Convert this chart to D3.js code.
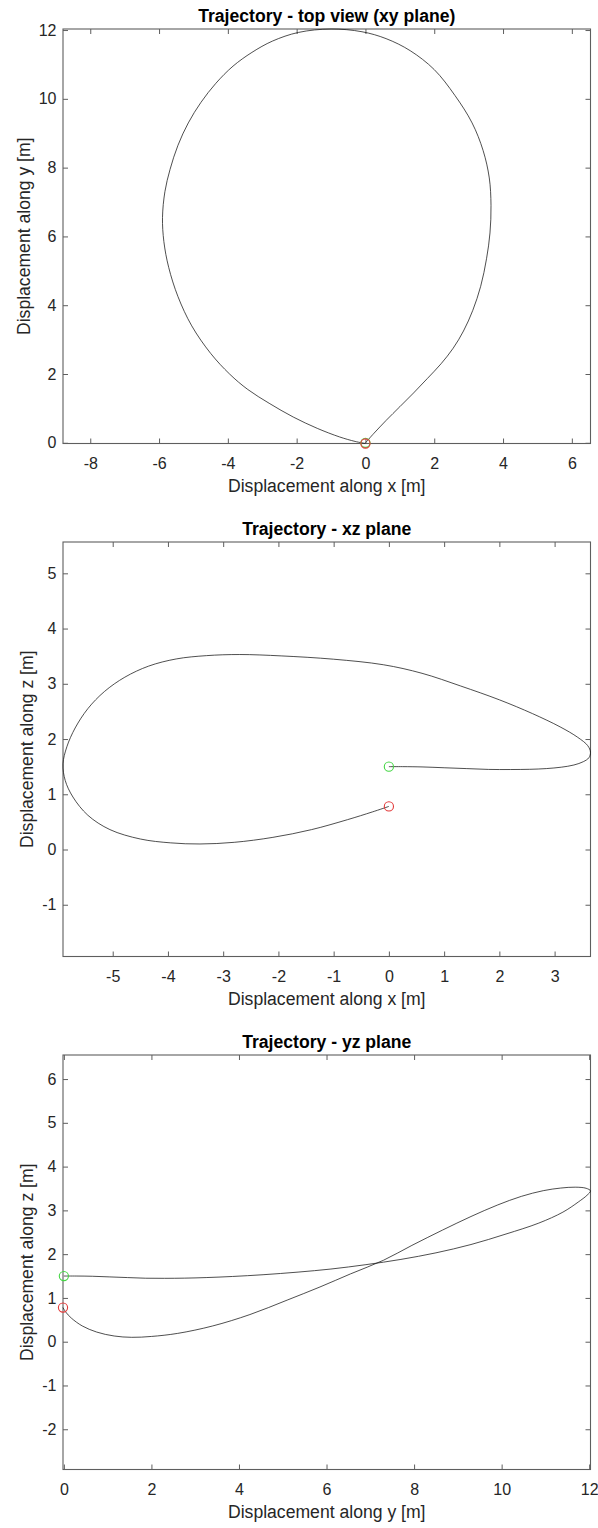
<!DOCTYPE html>
<html>
<head>
<meta charset="utf-8">
<script src="https://cdn.jsdelivr.net/npm/d3@7"></script>
<style>
  html, body { margin: 0; padding: 0; background: #ffffff; }
  svg { display: block; font-family: "Liberation Sans", Arial, Helvetica, sans-serif; }
</style>
</head>
<body>
<svg id="fig" width="598" height="1528"></svg>
<script>
// Trajectory samples, in metres (same parameter index for x, y and z)
const trajX = [0, 0.25, 0.6, 1.0, 1.4, 1.8, 2.2, 2.55, 2.85, 3.12, 3.35, 3.52, 3.62, 3.65,
               3.6, 3.42, 3.1, 2.6, 2.0, 1.3, 0.6, -0.1, -1.0,
               -1.95, -2.7, -3.3, -3.85, -4.35, -4.78, -5.15, -5.45, -5.68, -5.83, -5.9,
               -5.86, -5.72, -5.45, -5.05, -4.5, -3.95, -3.42, -2.8, -2.1, -1.4, -0.75, -0.3, 0];
const trajY = [0, 0.28, 0.65, 1.05, 1.45, 1.87, 2.3, 2.75, 3.25, 3.85, 4.55, 5.35, 6.1, 6.9,
               7.7, 8.5, 9.3, 10.1, 10.85, 11.4, 11.75, 11.95, 12.03,
               11.93, 11.68, 11.35, 10.95, 10.45, 9.9, 9.3, 8.65, 7.95, 7.3, 6.55,
               5.85, 5.1, 4.25, 3.4, 2.6, 2.0, 1.55, 1.15, 0.75, 0.42, 0.17, 0.04, -0.02];
const trajZ = [1.50, 1.50, 1.495, 1.48, 1.465, 1.45, 1.448, 1.452, 1.465, 1.49, 1.53, 1.59, 1.66, 1.76,
               1.88, 2.03, 2.22, 2.46, 2.71, 2.96, 3.19, 3.345, 3.445,
               3.505, 3.53, 3.51, 3.45, 3.32, 3.12, 2.86, 2.55, 2.2, 1.86, 1.55,
               1.25, 0.95, 0.62, 0.36, 0.19, 0.12, 0.10, 0.13, 0.22, 0.36, 0.54, 0.68, 0.78];

// Tick values for each view
const xyTicksX = [-8, -6, -4, -2, 0, 2, 4, 6];
const xyTicksY = [0, 2, 4, 6, 8, 10, 12];
const xzTicksX = [-5, -4, -3, -2, -1, 0, 1, 2, 3];
const xzTicksZ = [-1, 0, 1, 2, 3, 4, 5];
const yzTicksY = [0, 2, 4, 6, 8, 10, 12];
const yzTicksZ = [-2, -1, 0, 1, 2, 3, 4, 5, 6];

// Titles and axis labels
const viewTitles = ["Trajectory - top view (xy plane)", "Trajectory - xz plane", "Trajectory - yz plane"];
const hLabels = ["Displacement along x [m]", "Displacement along x [m]", "Displacement along y [m]"];
const vLabels = ["Displacement along y [m]", "Displacement along z [m]", "Displacement along z [m]"];

const svg = d3.select("#fig");
const boxLeft = 63, boxWidth = 527.5, boxHeight = 414.5;
const boxTops = [29, 542, 1055];
const axisColor = "#5e5e5e";
const textColor = "#262626";

const views = [
  { h: trajX, v: trajY, hTicks: xyTicksX, vTicks: xyTicksY },
  { h: trajX, v: trajZ, hTicks: xzTicksX, vTicks: xzTicksZ },
  { h: trajY, v: trajZ, hTicks: yzTicksY, vTicks: yzTicksZ }
];

// Equal data aspect ratio: tight on the limiting dimension, centred on the other
function equalDomains(h, v, w, ht) {
  const [h0, h1] = d3.extent(h);
  const [v0, v1] = d3.extent(v);
  const k = Math.min(w / (h1 - h0), ht / (v1 - v0));
  const hc = (h0 + h1) / 2, vc = (v0 + v1) / 2;
  return {
    hd: [hc - w / k / 2, hc + w / k / 2],
    vd: [vc - ht / k / 2, vc + ht / k / 2]
  };
}

const fmt = d => String(d);

views.forEach((view, i) => {
  const top = boxTops[i];
  const dom = equalDomains(view.h, view.v, boxWidth, boxHeight);
  const sx = d3.scaleLinear().domain(dom.hd).range([boxLeft, boxLeft + boxWidth]);
  const sy = d3.scaleLinear().domain(dom.vd).range([top + boxHeight, top]);

  const g = svg.append("g");

  // Plot area
  g.append("rect")
    .attr("x", boxLeft).attr("y", top)
    .attr("width", boxWidth).attr("height", boxHeight)
    .attr("fill", "#ffffff");

  // Axes with inward ticks on all four sides
  const bottomAxis = g.append("g")
    .attr("transform", `translate(0,${top + boxHeight})`)
    .call(d3.axisBottom(sx).tickValues(view.hTicks).tickFormat(fmt)
      .tickSizeInner(-5).tickSizeOuter(0).tickPadding(14));
  const topAxis = g.append("g")
    .attr("transform", `translate(0,${top})`)
    .call(d3.axisTop(sx).tickValues(view.hTicks).tickFormat("")
      .tickSizeInner(-5).tickSizeOuter(0));
  const leftAxis = g.append("g")
    .attr("transform", `translate(${boxLeft},0)`)
    .call(d3.axisLeft(sy).tickValues(view.vTicks).tickFormat(fmt)
      .tickSizeInner(-5).tickSizeOuter(0).tickPadding(6.5));
  const rightAxis = g.append("g")
    .attr("transform", `translate(${boxLeft + boxWidth},0)`)
    .call(d3.axisRight(sy).tickValues(view.vTicks).tickFormat("")
      .tickSizeInner(-5).tickSizeOuter(0));

  [bottomAxis, topAxis, leftAxis, rightAxis].forEach(a => {
    a.select(".domain").remove();
    a.selectAll(".tick line").attr("stroke", axisColor).attr("stroke-width", 1);
    a.selectAll(".tick text")
      .attr("fill", textColor)
      .style("font-size", "16px")
      .style("font-family", "'Liberation Sans', Arial, Helvetica, sans-serif");
  });

  // Box outline
  g.append("rect")
    .attr("x", boxLeft).attr("y", top)
    .attr("width", boxWidth).attr("height", boxHeight)
    .attr("fill", "none")
    .attr("stroke", axisColor)
    .attr("stroke-width", 1.1);

  // Trajectory
  const pts = view.h.map((d, j) => [d, view.v[j]]);
  g.append("path")
    .datum(pts)
    .attr("fill", "none")
    .attr("stroke", "#141414")
    .attr("stroke-width", 0.75)
    .attr("d", d3.line()
      .x(d => sx(d[0]))
      .y(d => sy(d[1]))
      .curve(d3.curveCatmullRom.alpha(0.5)));

  // Start (green) and end (red) markers
  const n = pts.length - 1;
  g.append("circle")
    .attr("cx", sx(pts[0][0])).attr("cy", sy(pts[0][1])).attr("r", 4.6)
    .attr("fill", "none").attr("stroke", "#45d645").attr("stroke-width", 1.1);
  g.append("circle")
    .attr("cx", sx(pts[n][0])).attr("cy", sy(pts[n][1])).attr("r", 4.6)
    .attr("fill", "none").attr("stroke", "#e23a3a").attr("stroke-width", 1.1);

  // Title
  g.append("text")
    .attr("x", boxLeft + boxWidth / 2)
    .attr("y", top - 7.5)
    .attr("text-anchor", "middle")
    .attr("fill", "#000000")
    .style("font-size", "17.6px")
    .style("font-weight", "bold")
    .text(viewTitles[i]);

  // Horizontal axis label
  g.append("text")
    .attr("x", boxLeft + boxWidth / 2)
    .attr("y", top + boxHeight + 48.5)
    .attr("text-anchor", "middle")
    .attr("fill", textColor)
    .style("font-size", "17.6px")
    .text(hLabels[i]);

  // Vertical axis label, placed clear of the widest tick label
  let maxW = 0;
  leftAxis.selectAll(".tick text").each(function () {
    maxW = Math.max(maxW, this.getComputedTextLength());
  });
  const lx = boxLeft - 6.5 - maxW - 9;
  g.append("text")
    .attr("transform", `translate(${lx},${top + boxHeight / 2}) rotate(-90)`)
    .attr("text-anchor", "middle")
    .attr("fill", textColor)
    .style("font-size", "17.6px")
    .text(vLabels[i]);
});
</script>
</body>
</html>
